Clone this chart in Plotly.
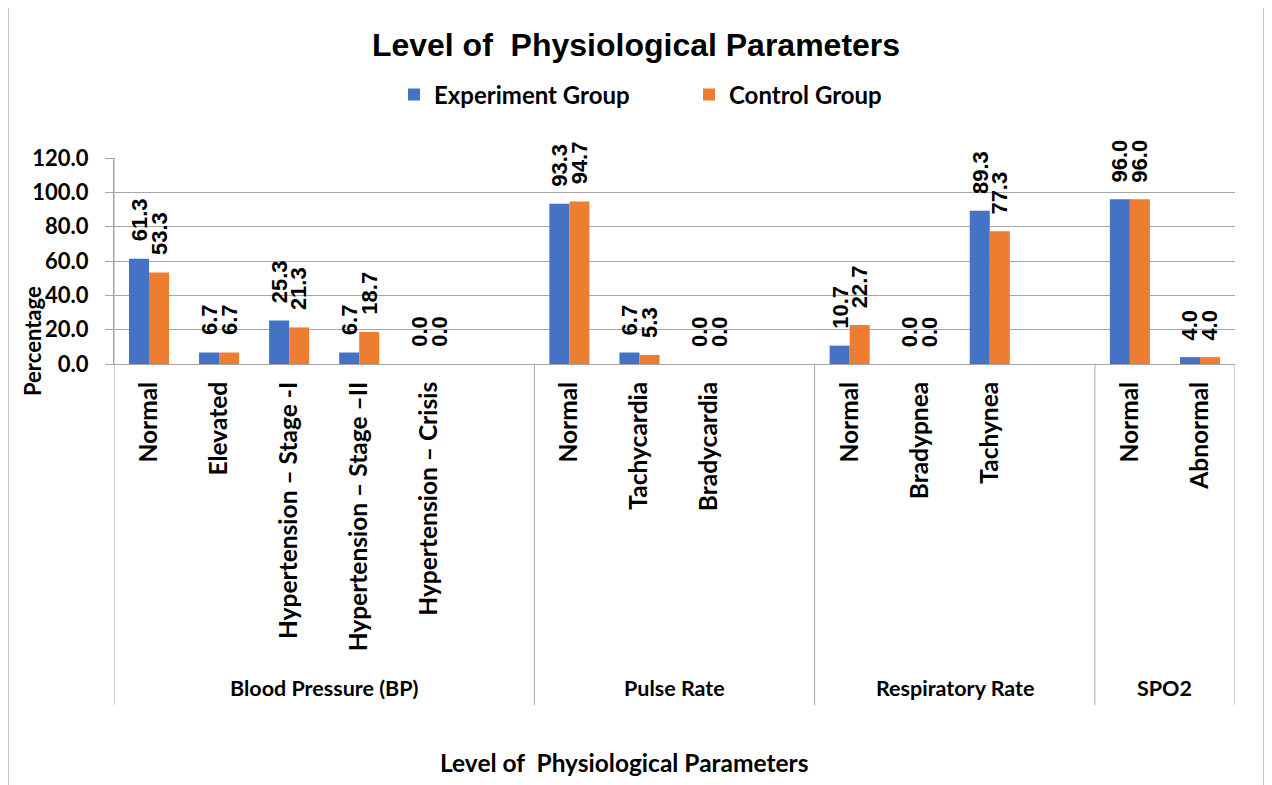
import plotly.graph_objects as go

# ---------------- data ----------------
groups = ["Blood Pressure (BP)", "Pulse Rate", "Respiratory Rate", "SPO2"]
group_categories = [
    ["Normal", "Elevated", "Hypertension – Stage -I", "Hypertension – Stage –II", "Hypertension – Crisis"],
    ["Normal", "Tachycardia", "Bradycardia"],
    ["Normal", "Bradypnea", "Tachynea"],
    ["Normal", "Abnormal"],
]
experiment = [
    [61.3, 6.7, 25.3, 6.7, 0.0],
    [93.3, 6.7, 0.0],
    [10.7, 0.0, 89.3],
    [96.0, 4.0],
]
control = [
    [53.3, 6.7, 21.3, 18.7, 0.0],
    [94.7, 5.3, 0.0],
    [22.7, 0.0, 77.3],
    [96.0, 4.0],
]
series_names = ["Experiment Group", "Control Group"]
y_ticks = [0, 20, 40, 60, 80, 100, 120]
title_text = "Level of \u00a0Physiological Parameters"
x_title = "Level of \u00a0Physiological Parameters"
y_title = "Percentage"

# ---------------- layout helpers ----------------
BLUE = "#4472C4"
ORANGE = "#ED7D31"
GRID = "#a6a6a6"
OFF = 8  # page body margin
W, H = 1272 - OFF, 785 - OFF
PLOT_L, PLOT_R, PLOT_T, PLOT_B = 114, 1235, 158, 364  # page pixels
L = PLOT_L - OFF
T = PLOT_T - OFF
R = W - (PLOT_R - OFF)
B = H - (PLOT_B - OFF)
PW, PH = W - L - R, H - T - B
BAR_W = 0.286

def px_x(px):
    return (px - PLOT_L) / PW

def px_y(py):
    return (PLOT_B - py) / PH

positions, labels, exp_vals, ctl_vals = [], [], [], []
separators = [-0.5]
group_centers = []
pos = 0
for gi, cats in enumerate(group_categories):
    start = pos - 0.5
    for ci, c in enumerate(cats):
        positions.append(pos)
        labels.append(c)
        exp_vals.append(experiment[gi][ci])
        ctl_vals.append(control[gi][ci])
        pos += 1
    if gi < len(group_categories) - 1:
        pos += 1  # blank slot after each group
    end = pos - 0.5
    separators.append(end)
    group_centers.append((start + end) / 2)

def lato(size):
    return dict(family="Lato", size=size, color="black", weight="bold")

fig = go.Figure()
fig.add_trace(go.Bar(x=positions, y=exp_vals, name=series_names[0], width=BAR_W,
                     offset=-BAR_W, marker=dict(color=BLUE, line=dict(width=0)),
                     legend="legend", showlegend=True))
fig.add_trace(go.Bar(x=positions, y=ctl_vals, name=series_names[1], width=BAR_W,
                     offset=0, marker=dict(color=ORANGE, line=dict(width=0)),
                     legend="legend2", showlegend=True))

annotations = []
# data labels
for vals, sh in ((exp_vals, -BAR_W / 2), (ctl_vals, BAR_W / 2)):
    for x, v in zip(positions, vals):
        annotations.append(dict(x=x + sh, y=v, xref="x", yref="y", text=f"{v:.1f}",
                                showarrow=False, textangle=-90, yanchor="bottom",
                                xanchor="center", yshift=15,
                                font=dict(family="Liberation Sans", size=22,
                                          color="black", weight="bold")))
# group labels
for g, c in zip(groups, group_centers):
    annotations.append(dict(x=c, y=px_y(688), xref="x", yref="paper", text=g,
                            showarrow=False, yanchor="middle", font=lato(21.5)))
# axis titles
annotations.append(dict(x=px_x(624), y=px_y(762), xref="paper", yref="paper",
                        text=x_title, showarrow=False,
                        yanchor="middle", font=lato(24.5)))
annotations.append(dict(x=px_x(32), y=px_y(341), xref="paper", yref="paper",
                        text=y_title, showarrow=False, textangle=-90,
                        xanchor="center", yanchor="middle", font=lato(22)))

shapes = []
for i, s in enumerate(separators):
    top = 1 if i == 0 else 0
    shapes.append(dict(type="line", xref="x", yref="paper", x0=s, x1=s,
                       y0=top, y1=px_y(705), line=dict(color=GRID, width=1)))
# chart border
shapes.append(dict(type="rect", xref="paper", yref="paper", x0=px_x(8), x1=px_x(1264),
                   y0=px_y(800), y1=px_y(7), line=dict(color="#b4b4b4", width=1.5),
                   layer="below"))

fig.update_layout(
    width=W, height=H,
    margin=dict(l=L, r=R, t=T, b=B),
    paper_bgcolor="white", plot_bgcolor="white",
    barmode="overlay",
    showlegend=True,
    title=dict(text=title_text, x=(636 - OFF) / W, xref="container", xanchor="center",
               y=1 - (45 - OFF) / H, yanchor="middle",
               font=dict(family="Liberation Sans", size=32, color="black", weight="bold")),
    legend=dict(orientation="h", x=px_x(394), y=px_y(95), xanchor="left", yanchor="middle",
                font=lato(24), bgcolor="rgba(0,0,0,0)"),
    legend2=dict(orientation="h", x=px_x(689), y=px_y(95), xanchor="left", yanchor="middle",
                 font=lato(24), bgcolor="rgba(0,0,0,0)"),
    xaxis=dict(range=[-0.5, separators[-1]], tickmode="array", tickvals=positions,
               ticktext=labels, tickangle=-90, tickfont=lato(24.5), ticks="",
               ticklabelstandoff=7, showgrid=False, zeroline=False,
               showline=True, linecolor=GRID, linewidth=1),
    yaxis=dict(range=[0, 120], tickmode="array", tickvals=y_ticks, tickformat=".1f",
               tickfont=lato(22), ticks="outside", ticklen=8, tickcolor=GRID,
               ticklabelstandoff=12,
               showgrid=True, gridcolor=GRID, gridwidth=1, zeroline=False,
               showline=True, linecolor=GRID, linewidth=1),
    annotations=annotations,
    shapes=shapes,
)

fig.write_html("out.html")
